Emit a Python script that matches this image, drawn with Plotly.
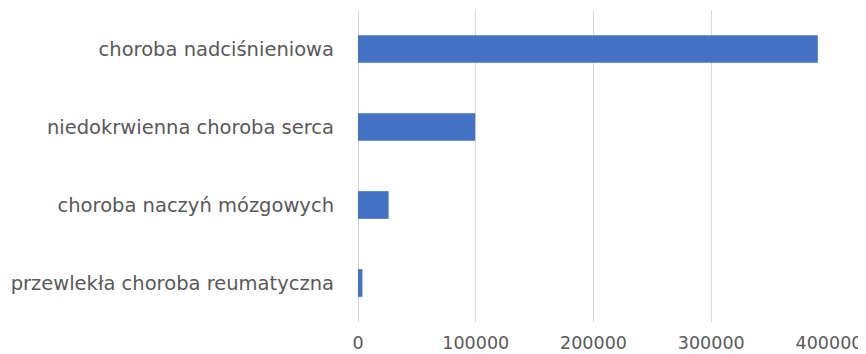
import plotly.graph_objects as go

categories = [
    "choroba nadciśnieniowa",
    "niedokrwienna choroba serca",
    "choroba naczyń mózgowych",
    "przewlekła choroba reumatyczna",
]
values = [390500, 99500, 26000, 3800]
tick_vals = [0, 100000, 200000, 300000, 400000]
tick_text = ["0", "100000", "200000", "300000", "400000"]

fig = go.Figure(
    go.Bar(
        y=categories,
        x=values,
        orientation="h",
        marker=dict(color="#4472C4", line=dict(width=0)),
        width=0.355,
    )
)

font_grey = "#595959"
fig.update_layout(
    width=858,
    height=346,
    margin=dict(l=350, r=37, t=2, b=32, autoexpand=False),
    plot_bgcolor="white",
    paper_bgcolor="white",
    showlegend=False,
    font=dict(family="DejaVu Sans", size=18, color=font_grey),
)
fig.update_xaxes(
    range=[0, 400000],
    tickvals=tick_vals,
    ticktext=tick_text,
    showgrid=True,
    gridcolor="#d9d9d9",
    gridwidth=1.3,
    zeroline=True,
    zerolinecolor="#d9d9d9",
    zerolinewidth=1.3,
    showline=False,
    ticks="",
    automargin=False,
    ticklabelstandoff=8,
    tickfont=dict(size=17.5, color=font_grey),
)
fig.update_yaxes(
    autorange="reversed",
    showgrid=False,
    showline=False,
    ticks="",
    automargin=False,
    ticklabelstandoff=23,
    tickfont=dict(size=19.5, color=font_grey),
)

fig.write_html("out.html")
